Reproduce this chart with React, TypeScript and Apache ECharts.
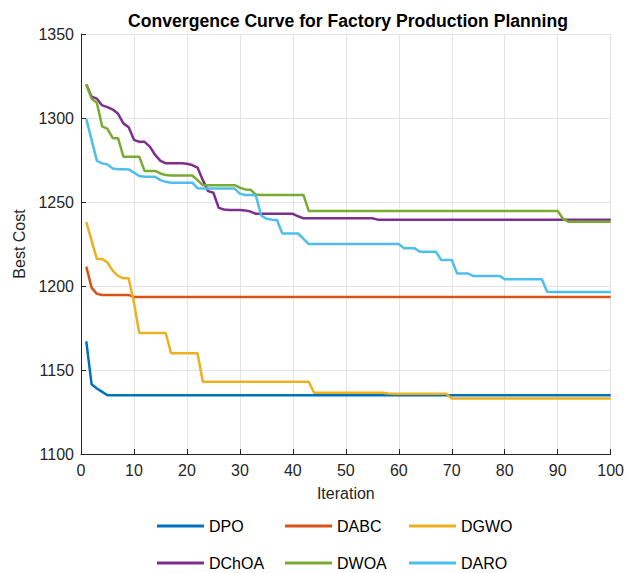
import React, { useEffect, useRef } from "react";
import * as echarts from "echarts";

// Best cost per iteration (iterations 1..100) for each algorithm
const iterations: number[] = Array.from({ length: 100 }, (_, i) => i + 1);

const DPO: number[] = [
  1167, 1141.5, 1139, 1137, 1135, 1135, 1135, 1135, 1135, 1135,
  1135, 1135, 1135, 1135, 1135, 1135, 1135, 1135, 1135, 1135,
  1135, 1135, 1135, 1135, 1135, 1135, 1135, 1135, 1135, 1135,
  1135, 1135, 1135, 1135, 1135, 1135, 1135, 1135, 1135, 1135,
  1135, 1135, 1135, 1135, 1135, 1135, 1135, 1135, 1135, 1135,
  1135, 1135, 1135, 1135, 1135, 1135, 1135, 1135, 1135, 1135,
  1135, 1135, 1135, 1135, 1135, 1135, 1135, 1135, 1135, 1135,
  1135, 1135, 1135, 1135, 1135, 1135, 1135, 1135, 1135, 1135,
  1135, 1135, 1135, 1135, 1135, 1135, 1135, 1135, 1135, 1135,
  1135, 1135, 1135, 1135, 1135, 1135, 1135, 1135, 1135, 1135,
];

const DABC: number[] = [
  1211.5, 1199, 1195.3, 1194.6, 1194.6, 1194.6, 1194.6, 1194.6, 1194.6, 1193.5,
  1193.5, 1193.5, 1193.5, 1193.5, 1193.5, 1193.5, 1193.5, 1193.5, 1193.5, 1193.5,
  1193.5, 1193.5, 1193.5, 1193.5, 1193.5, 1193.5, 1193.5, 1193.5, 1193.5, 1193.5,
  1193.5, 1193.5, 1193.5, 1193.5, 1193.5, 1193.5, 1193.5, 1193.5, 1193.5, 1193.5,
  1193.5, 1193.5, 1193.5, 1193.5, 1193.5, 1193.5, 1193.5, 1193.5, 1193.5, 1193.5,
  1193.5, 1193.5, 1193.5, 1193.5, 1193.5, 1193.5, 1193.5, 1193.5, 1193.5, 1193.5,
  1193.5, 1193.5, 1193.5, 1193.5, 1193.5, 1193.5, 1193.5, 1193.5, 1193.5, 1193.5,
  1193.5, 1193.5, 1193.5, 1193.5, 1193.5, 1193.5, 1193.5, 1193.5, 1193.5, 1193.5,
  1193.5, 1193.5, 1193.5, 1193.5, 1193.5, 1193.5, 1193.5, 1193.5, 1193.5, 1193.5,
  1193.5, 1193.5, 1193.5, 1193.5, 1193.5, 1193.5, 1193.5, 1193.5, 1193.5, 1193.5,
];

const DGWO: number[] = [
  1238, 1227, 1216, 1216, 1214, 1209, 1206, 1204.6, 1204.6, 1190,
  1172, 1172, 1172, 1172, 1172, 1172, 1160, 1160, 1160, 1160,
  1160, 1160, 1143, 1143, 1143, 1143, 1143, 1143, 1143, 1143,
  1143, 1143, 1143, 1143, 1143, 1143, 1143, 1143, 1143, 1143,
  1143, 1143, 1143, 1136.5, 1136.5, 1136.5, 1136.5, 1136.5, 1136.5, 1136.5,
  1136.5, 1136.5, 1136.5, 1136.5, 1136.5, 1136.5, 1136.5, 1136, 1135.8, 1135.8,
  1135.8, 1135.8, 1135.8, 1135.8, 1135.8, 1135.8, 1135.8, 1135.8, 1135.8, 1133,
  1133, 1133, 1133, 1133, 1133, 1133, 1133, 1133, 1133, 1133,
  1133, 1133, 1133, 1133, 1133, 1133, 1133, 1133, 1133, 1133,
  1133, 1133, 1133, 1133, 1133, 1133, 1133, 1133, 1133, 1133,
];

const DChOA: number[] = [
  1320, 1312.7, 1311.5, 1307.5, 1306.5, 1305, 1302.5, 1296.8, 1294.5, 1287,
  1285.8, 1285.8, 1283, 1278, 1274.5, 1273, 1273, 1273, 1273, 1272.8,
  1272, 1270.5, 1263, 1256.5, 1255.5, 1246.5, 1245.5, 1245.2, 1245.2, 1245.2,
  1245, 1244.3, 1243, 1243, 1243, 1243, 1243, 1243, 1243, 1243,
  1241.5, 1240.3, 1240.3, 1240.3, 1240.3, 1240.3, 1240.3, 1240.3, 1240.3, 1240.3,
  1240.3, 1240.3, 1240.3, 1240.3, 1240.3, 1239.5, 1239.5, 1239.5, 1239.5, 1239.5,
  1239.5, 1239.5, 1239.5, 1239.5, 1239.5, 1239.5, 1239.5, 1239.5, 1239.5, 1239.5,
  1239.5, 1239.5, 1239.5, 1239.5, 1239.5, 1239.5, 1239.5, 1239.5, 1239.5, 1239.5,
  1239.5, 1239.5, 1239.5, 1239.5, 1239.5, 1239.5, 1239.5, 1239.5, 1239.5, 1239.5,
  1239.5, 1239.5, 1239.5, 1239.5, 1239.5, 1239.5, 1239.5, 1239.5, 1239.5, 1239.5,
];

const DWOA: number[] = [
  1320, 1311.5, 1309, 1295, 1293.5, 1288, 1288, 1277, 1277, 1277,
  1277, 1268.5, 1268.5, 1268.5, 1267, 1266, 1265.8, 1265.8, 1265.8, 1265.8,
  1265.8, 1263, 1260, 1260, 1260, 1260, 1260, 1260, 1260, 1258.5,
  1257.5, 1257.3, 1254.4, 1254.2, 1254.2, 1254.2, 1254.2, 1254.2, 1254.2, 1254.2,
  1254.2, 1254.2, 1244.6, 1244.6, 1244.6, 1244.6, 1244.6, 1244.6, 1244.6, 1244.6,
  1244.6, 1244.6, 1244.6, 1244.6, 1244.6, 1244.6, 1244.6, 1244.6, 1244.6, 1244.6,
  1244.6, 1244.6, 1244.6, 1244.6, 1244.6, 1244.6, 1244.6, 1244.6, 1244.6, 1244.6,
  1244.6, 1244.6, 1244.6, 1244.6, 1244.6, 1244.6, 1244.6, 1244.6, 1244.6, 1244.6,
  1244.6, 1244.6, 1244.6, 1244.6, 1244.6, 1244.6, 1244.6, 1244.6, 1244.6, 1244.6,
  1240, 1238.3, 1238.3, 1238.3, 1238.3, 1238.3, 1238.3, 1238.3, 1238.3, 1238.3,
];

const DARO: number[] = [
  1299.5, 1287, 1274.5, 1273, 1272.3, 1270, 1269.5, 1269.5, 1269.4, 1267.5,
  1265.5, 1265, 1265, 1265, 1263, 1262, 1261.5, 1261.5, 1261.5, 1261.5,
  1261.5, 1258.2, 1258, 1258, 1258, 1258, 1258, 1258, 1258, 1255,
  1254.2, 1254.2, 1254, 1242, 1240, 1239.5, 1239.3, 1231.3, 1231.3, 1231.3,
  1231.3, 1228, 1225, 1225, 1225, 1225, 1225, 1225, 1225, 1225,
  1225, 1225, 1225, 1225, 1225, 1225, 1225, 1225, 1225, 1225,
  1222.4, 1222.4, 1222.4, 1220.4, 1220.4, 1220.4, 1220.4, 1215.5, 1215.5, 1215.5,
  1207.5, 1207.5, 1207.5, 1206, 1206, 1206, 1206, 1206, 1206, 1204,
  1204, 1204, 1204, 1204, 1204, 1204, 1204, 1196.6, 1196.5, 1196.5,
  1196.5, 1196.5, 1196.5, 1196.5, 1196.5, 1196.5, 1196.5, 1196.5, 1196.5, 1196.5,
];

const seriesNames: string[] = ["DPO", "DABC", "DGWO", "DChOA", "DWOA", "DARO"];
const seriesValues: number[][] = [DPO, DABC, DGWO, DChOA, DWOA, DARO];
const seriesColors: string[] = ["#0072BD", "#D95319", "#EDB120", "#7E2F8E", "#77AC30", "#4DBEEE"];

const xTicks = { min: 0, max: 100, interval: 10 };
const yTicks = { min: 1100, max: 1350, interval: 50 };

const FONT = "'Liberation Sans', Arial, Helvetica, sans-serif";
const AXIS_COLOR = "#262626";

// legend slots: two rows of three entries
const legendCols = [157, 285, 409];
const legendRows = [518, 555];

export default function App() {
  const ref = useRef<HTMLDivElement>(null);

  useEffect(() => {
    if (!ref.current) return;
    const chart = echarts.init(ref.current, undefined, { renderer: "svg" });

    const series = seriesNames.map((name, k) => ({
      name,
      type: "line",
      data: seriesValues[k].map((v, i) => [iterations[i], v]),
      symbol: "none",
      showSymbol: false,
      lineStyle: { color: seriesColors[k], width: 2.5 },
      itemStyle: { color: seriesColors[k] },
      z: 2 + k,
    }));

    const legends = seriesNames.map((name, k) => ({
      data: [{ name, icon: "rect" }],
      left: legendCols[k % 3],
      top: legendRows[Math.floor(k / 3)],
      orient: "horizontal",
      padding: 0,
      itemWidth: 47,
      itemHeight: 3,
      itemGap: 0,
      selectedMode: false,
      itemStyle: { color: seriesColors[k], borderWidth: 0 },
      textStyle: { fontFamily: FONT, fontSize: 16, color: "#000" },
    }));

    chart.setOption({
      animation: false,
      backgroundColor: "#fff",
      title: {
        text: "Convergence Curve for Factory Production Planning",
        left: 348,
        textAlign: "center",
        top: 12,
        padding: 0,
        textStyle: { fontFamily: FONT, fontSize: 17.6, fontWeight: "bold", color: "#000" },
      },
      legend: legends,
      grid: { left: 81, top: 34, width: 532, height: 420, containLabel: false },
      xAxis: {
        type: "value",
        min: xTicks.min,
        max: xTicks.max,
        interval: xTicks.interval,
        name: "Iteration",
        nameLocation: "middle",
        nameGap: 31,
        nameTextStyle: { fontFamily: FONT, fontSize: 16, color: AXIS_COLOR },
        axisLine: { show: true, lineStyle: { color: AXIS_COLOR, width: 1 } },
        axisTick: { show: true, inside: true, length: 5, lineStyle: { color: AXIS_COLOR } },
        axisLabel: { fontFamily: FONT, fontSize: 16, color: AXIS_COLOR, margin: 8 },
        splitLine: { show: true, lineStyle: { color: "#E3E3E3", width: 1 } },
      },
      yAxis: {
        type: "value",
        min: yTicks.min,
        max: yTicks.max,
        interval: yTicks.interval,
        name: "Best Cost",
        nameLocation: "middle",
        nameGap: 44,
        nameTextStyle: { fontFamily: FONT, fontSize: 16, color: AXIS_COLOR },
        axisLine: { show: true, lineStyle: { color: AXIS_COLOR, width: 1 } },
        axisTick: { show: true, inside: true, length: 5, lineStyle: { color: AXIS_COLOR } },
        axisLabel: {
          fontFamily: FONT,
          fontSize: 16,
          color: AXIS_COLOR,
          margin: 7,
          formatter: (v: number) => String(v),
        },
        splitLine: { show: true, lineStyle: { color: "#E3E3E3", width: 1 } },
      },
      series,
    });

    return () => chart.dispose();
  }, []);

  return (
    <div
      ref={ref}
      style={{ position: "fixed", left: 0, top: 0, width: 627, height: 573 }}
    />
  );
}
